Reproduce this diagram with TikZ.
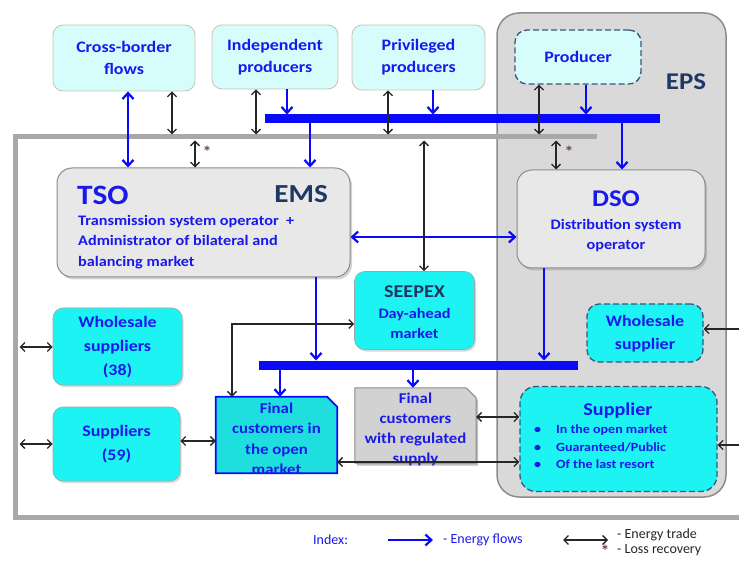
\documentclass[tikz,border=0pt]{standalone}
\usepackage{fontspec}
\setmainfont{Carlito}[FakeStretch=1.12]
\newfontfamily\legendfont{Carlito}
\usetikzlibrary{arrows.meta,shadows}
\definecolor{txtblue}{RGB}{25,25,235}
\definecolor{navy}{RGB}{30,55,100}
\definecolor{hdrfill}{RGB}{214,252,252}
\definecolor{hdrborder}{RGB}{200,195,175}
\definecolor{cyfill}{RGB}{30,243,243}
\definecolor{cydark}{RGB}{30,222,222}
\definecolor{cyborder}{RGB}{150,170,170}
\definecolor{epsfill}{RGB}{217,217,217}
\definecolor{epsborder}{RGB}{140,140,140}
\definecolor{framegray}{RGB}{168,168,168}
\definecolor{tsofill}{RGB}{232,232,232}
\definecolor{regfill}{RGB}{210,210,210}
\definecolor{flowblue}{RGB}{10,10,250}
\definecolor{dashcol}{RGB}{60,85,120}
\definecolor{starcol}{RGB}{110,60,100}
\begin{document}
\begin{tikzpicture}[x=1pt,y=-1pt,
  boxtext/.style={text=txtblue, font=\bfseries\fontsize{16}{22}\selectfont, align=center, inner sep=0pt},
  hdr/.style={boxtext, draw=hdrborder, line width=0.8pt, fill=hdrfill, rounded corners=10pt},
  cybox/.style={boxtext, draw=cyborder, line width=0.6pt, fill=cyfill, rounded corners=10pt,
     drop shadow={shadow xshift=1.5pt, shadow yshift=-2pt, opacity=0.3}},
  dashbox/.style={boxtext, draw=dashcol, dash pattern=on 6pt off 3pt, line width=1.3pt, rounded corners=12pt},
  opbox/.style={draw=epsborder, line width=1pt, fill=tsofill, rounded corners=15pt,
     drop shadow={shadow xshift=2pt, shadow yshift=-2.5pt, opacity=0.35}},
  bluearr/.style={draw=flowblue, line width=2.2pt, >={Straight Barb[length=6pt,width=11pt]}},
  blackarr/.style={draw=black!85, line width=1.3pt, >={Straight Barb[length=4.5pt,width=9pt]}},
  bus/.style={draw=flowblue, line width=9pt},
  star/.style={text=starcol, font=\bfseries\fontsize{16}{16}\selectfont, inner sep=0pt},
  legtext/.style={font=\legendfont\fontsize{14}{14}\selectfont, anchor=west, inner sep=0pt}
]
\useasboundingbox (0,0) rectangle (739,561);

% helper x / y positions
\foreach \n/\v in {128/128,172/172,195/195,232/232,256/256,280/280,287/287,310/310,316/316,388/388,413/413,424/424,433/433,539/539,544/544,556/556,586/586,622/622}
  {\coordinate (x\n) at (\v,0);}
\coordinate (fa) at (0,134.5);
\coordinate (fb) at (0,140.5);
\coordinate (bA) at (0,114.5);
\coordinate (bB) at (0,119);
\coordinate (cA) at (0,360.5);
\coordinate (cB) at (0,365);
\coordinate (y237) at (0,237);
\coordinate (y324) at (0,324);
\coordinate (y441) at (0,441);
\coordinate (y417) at (0,417);
\coordinate (y462) at (0,462);
\coordinate (y347) at (0,347);
\coordinate (y444) at (0,444);
\coordinate (y329) at (0,329);
\coordinate (y445) at (0,445);
\coordinate (lw1) at (19.5,347);
\coordinate (lw2) at (19.5,444);
\coordinate (rw1) at (750,329);
\coordinate (rw2) at (750,445);

% EPS region
\node[draw=epsborder, line width=1.5pt, fill=epsfill, rounded corners=22pt,
      minimum width=229pt, minimum height=484pt, inner sep=0pt] (eps) at (611.5,255) {};
\node[text=navy, font=\bfseries\fontsize{24}{24}\selectfont, inner sep=0pt] (epslbl) at (686,82) {EPS};

% outer frame
\coordinate (fr1) at (597,137);
\coordinate (fr2) at (15,137);
\coordinate (fr3) at (15,517);
\coordinate (fr4) at (745,517);
\draw[framegray, line width=5pt] (fr1) -- (fr2) -- (fr3) -- (fr4);

% buses
\coordinate (b1l) at (265,119);
\coordinate (b1r) at (660,119);
\coordinate (b2l) at (259,365);
\coordinate (b2r) at (578,365);
\draw[bus] (b1l) -- (b1r);
\draw[bus] (b2l) -- (b2r);

% top boxes
\node[hdr, minimum width=142pt, minimum height=66pt] (cbf) at (124,58) {Cross-border\\flows};
\node[hdr, minimum width=126pt, minimum height=64pt] (ind) at (275,57) {Independent\\producers};
\node[hdr, minimum width=133pt, minimum height=65pt] (priv) at (418.5,57.5) {Privileged\\producers};
\node[dashbox, fill=hdrfill, minimum width=126pt, minimum height=54pt] (prod) at (578,57) {Producer};

% TSO
\node[opbox, minimum width=293pt, minimum height=109pt] (tso) at (203.5,222.5) {};
\node[text=txtblue, font=\bfseries\fontsize{28}{28}\selectfont, anchor=base west, inner sep=0pt] (tsolbl) at (77,205) {TSO};
\node[text=navy, font=\bfseries\fontsize{26}{26}\selectfont, anchor=base east, inner sep=0pt] (emslbl) at (328,203) {EMS};
\node[text=txtblue, font=\bfseries\fontsize{14.5}{20.5}\selectfont, align=left, anchor=north west, inner sep=0pt] (tsotxt) at (78,215)
  {Transmission system operator \ +\\Administrator of bilateral and\\balancing market};

% DSO
\node[opbox, minimum width=188pt, minimum height=98pt] (dso) at (611,219) {};
\node[text=txtblue, font=\bfseries\fontsize{24}{24}\selectfont, inner sep=0pt] (dsolbl) at (616,199) {DSO};
\node[text=txtblue, font=\bfseries\fontsize{14.5}{20}\selectfont, align=center, inner sep=0pt] (dsotxt) at (616,236) {Distribution system\\operator};

% SEEPEX
\node[cybox, minimum width=120pt, minimum height=78pt] (seepex) at (414.5,310.5) {};
\node[text=navy, font=\bfseries\fontsize{18}{18}\selectfont, inner sep=0pt] (seelbl) at (414.5,292) {SEEPEX};
\node[text=txtblue, font=\bfseries\fontsize{14.5}{20}\selectfont, align=center, inner sep=0pt] (seetxt) at (414.5,323) {Day-ahead\\market};

% left suppliers
\node[cybox, minimum width=129pt, minimum height=77pt] (wsup) at (117.5,346.5) {};
\node[boxtext, font=\bfseries\fontsize{16}{24}\selectfont] (wsuptxt) at (117.5,347) {Wholesale\\suppliers\\(38)};
\node[cybox, minimum width=127pt, minimum height=74pt] (sup) at (116.5,444) {};
\node[boxtext, font=\bfseries\fontsize{16}{24}\selectfont] (suptxt) at (116.5,444) {Suppliers\\(59)};

% final customers (cut-corner boxes)
\node[minimum width=121pt, minimum height=76pt, inner sep=0pt] (fco) at (276.5,435) {};
\draw[draw=flowblue, line width=1.8pt, fill=cydark]
  (fco.south west) -- (fco.north west) -- ([xshift=-10pt]fco.north east) -- ([yshift=-10pt]fco.north east) -- (fco.south east) -- cycle;
\node[boxtext, font=\bfseries\fontsize{15}{20.5}\selectfont] (fcotxt) at (276.5,439) {Final\\customers in\\the open\\market};
\node[minimum width=121pt, minimum height=75pt, inner sep=0pt] (fcr) at (415.5,425.5) {};
\draw[draw=none, fill=black, opacity=0.25]
  ([shift={(2pt,-2.5pt)}]fcr.south west) -- ([shift={(2pt,-2.5pt)}]fcr.north west) -- ([shift={(-8pt,-2.5pt)}]fcr.north east)
  -- ([shift={(2pt,-12.5pt)}]fcr.north east) -- ([shift={(2pt,-2.5pt)}]fcr.south east) -- cycle;
\draw[draw=epsborder, line width=1pt, fill=regfill]
  (fcr.south west) -- (fcr.north west) -- ([xshift=-10pt]fcr.north east) -- ([yshift=-10pt]fcr.north east) -- (fcr.south east) -- cycle;
\node[boxtext, font=\bfseries\fontsize{15}{20}\selectfont] (fcrtxt) at (415.5,429) {Final\\customers\\with regulated\\supply};

% EPS suppliers
\node[dashbox, fill=cyfill, minimum width=116pt, minimum height=58pt] (wsupe) at (645,333) {};
\node[boxtext, font=\bfseries\fontsize{16}{23}\selectfont] (wsupetxt) at (645,334) {Wholesale\\supplier};
\node[dashbox, fill=cyfill, minimum width=197pt, minimum height=105pt, rounded corners=16pt] (supe) at (618.5,439) {};
\node[text=txtblue, font=\bfseries\fontsize{18}{18}\selectfont, inner sep=0pt] (supelbl) at (618,411) {Supplier};
\node[text=txtblue, font=\bfseries\fontsize{12.5}{17.5}\selectfont, align=left, anchor=north west, inner sep=0pt] (supetxt) at (534,425)
  {\textbullet\hspace{15pt}In the open market\\\textbullet\hspace{15pt}Guaranteed/Public\\\textbullet\hspace{15pt}Of the last resort};

% energy flows (blue)
\draw[bluearr,<->] (cbf.south -| x128) -- (tso.north -| x128);
\draw[bluearr,->] (ind.south -| x287) -- (bA -| x287);
\draw[bluearr,->] (priv.south -| x433) -- (bA -| x433);
\draw[bluearr,->] (prod.south -| x586) -- (bA -| x586);
\draw[bluearr,->] (bB -| x310) -- (tso.north -| x310);
\draw[bluearr,->] (bB -| x622) -- (dso.north -| x622);
\draw[bluearr,<->] (tso.east |- y237) -- (dso.west |- y237);
\draw[bluearr,->] (tso.south -| x316) -- (cA -| x316);
\draw[bluearr,->] (dso.south -| x544) -- (cA -| x544);
\draw[bluearr,->] (cB -| x280) -- (fco.north -| x280);
\draw[bluearr,->] (cB -| x413) -- (fcr.north -| x413);

% energy trade (black)
\draw[blackarr,<->] (cbf.south -| x172) -- (fa -| x172);
\draw[blackarr,<->] (ind.south -| x256) -- (fa -| x256);
\draw[blackarr,<->] (priv.south -| x388) -- (fa -| x388);
\draw[blackarr,<->] (prod.south -| x539) -- (fa -| x539);
\draw[blackarr,<->] (fb -| x195) -- (tso.north -| x195);
\draw[blackarr,<->] (fb -| x556) -- (dso.north -| x556);
\draw[blackarr,<->] (fb -| x424) -- (seepex.north -| x424);
\draw[blackarr,<->] (fco.north -| x232) |- (seepex.west |- y324);
\draw[blackarr,<->] (sup.east |- y441) -- (fco.west |- y441);
\draw[blackarr,<->] (fcr.east |- y417) -- (supe.west |- y417);
\draw[blackarr,<->] (fco.east |- y462) -- (supe.west |- y462);
\draw[blackarr,<->] (lw1) -- (wsup.west |- y347);
\draw[blackarr,<->] (lw2) -- (sup.west |- y444);
\draw[blackarr,<->] (rw1) -- (wsupe.east |- y329);
\draw[blackarr,<->] (rw2) -- (supe.east |- y445);
\node[star] (st1) at (207,152) {*};
\node[star] (st2) at (569,152) {*};

% legend
\node[legtext, text=txtblue] (idx) at (313,540) {Index:};
\coordinate (lg1) at (388,540);
\coordinate (lg2) at (433,540);
\draw[bluearr,->] (lg1) -- (lg2);
\node[legtext, text=txtblue] (lgflow) at (443,540) {- Energy flows};
\coordinate (lg3) at (563,540);
\coordinate (lg4) at (608,540);
\draw[blackarr,<->] (lg3) -- (lg4);
\node[legtext, text=black!85] (lgtrade) at (617,535) {- Energy trade};
\node[star] (st3) at (605,551) {*};
\node[legtext, text=black!85] (lgloss) at (617,550) {- Loss recovery};
\end{tikzpicture}
\end{document}
